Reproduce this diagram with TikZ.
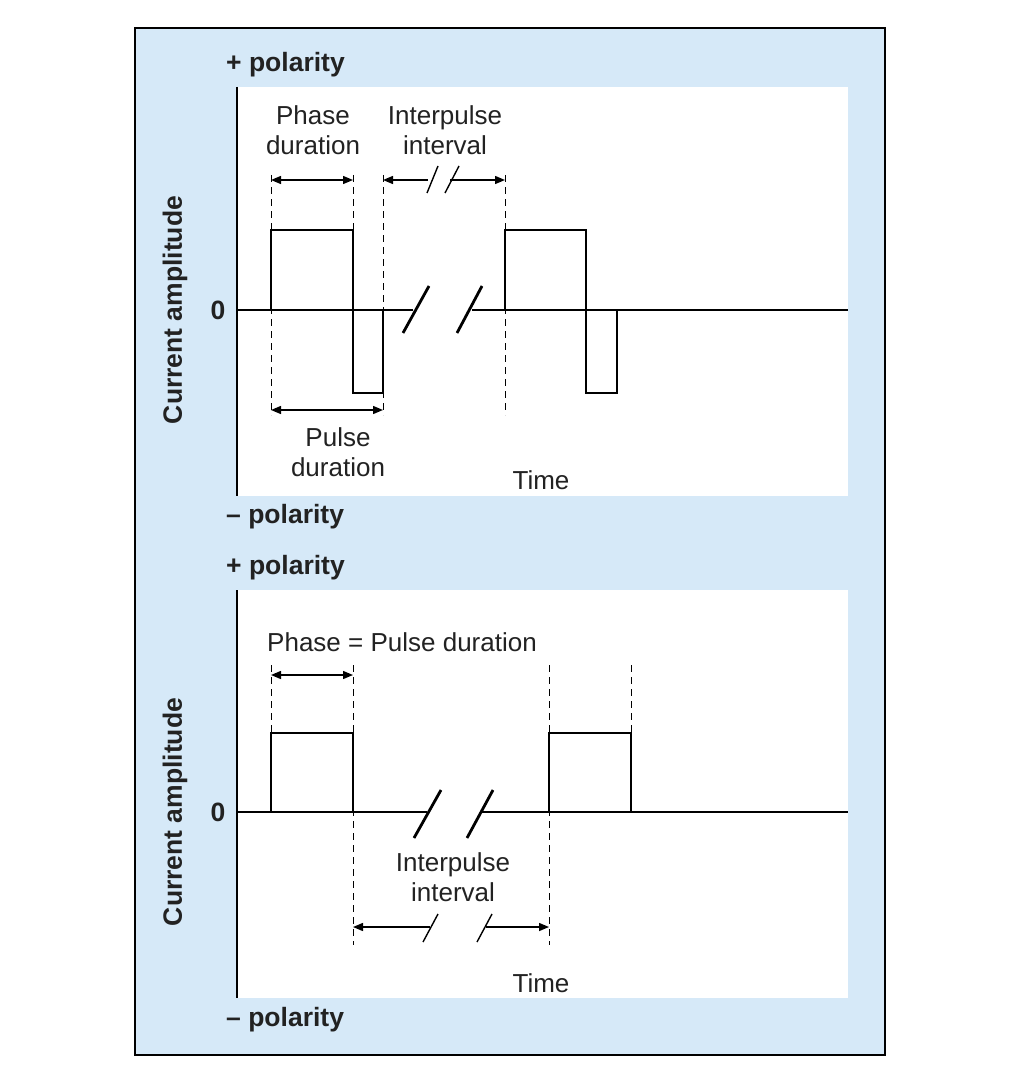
\documentclass[tikz,border=0pt]{standalone}
\usepackage{fontspec}
\setmainfont{Liberation Sans}
\usetikzlibrary{arrows.meta}
\definecolor{panelblue}{HTML}{D6E9F8}
\definecolor{txt}{HTML}{222222}
\tikzset{
  wave/.style={line width=2.8pt,line join=miter},
  axis/.style={line width=2.8pt},
  guide/.style={dashed,line width=1pt,dash pattern=on 7pt off 5pt},
  dim/.style={line width=1.4pt,-{Triangle[length=10pt,width=8pt]}},
  dimboth/.style={line width=1.4pt,{Triangle[length=10pt,width=8pt]}-{Triangle[length=10pt,width=8pt]}},
  brk/.style={line width=2.8pt},
  brks/.style={line width=1.4pt},
  lbl/.style={font=\fontsize{26}{30}\selectfont,text=txt,align=center,inner sep=0pt},
  bold/.style={font=\bfseries\fontsize{26.5}{30}\selectfont,text=txt,inner sep=0pt}
}
\begin{document}
\begin{tikzpicture}[x=1pt,y=-1pt]
\useasboundingbox (0,0) rectangle (1032,1078);
\fill[white] (0,0) rectangle (1032,1078);
\draw[fill=panelblue,line width=2pt] (135,28) rectangle (885,1055);
\fill[white] (237,87) rectangle (848,496);
\fill[white] (237,590) rectangle (848,998);

% ---------- top panel ----------
\draw[axis] (237,87) -- (237,496);
\draw[axis] (237,310) -- (413,310);
\draw[axis] (472,310) -- (848,310);
\draw[brk] (403,333) -- (429,286);
\draw[brk] (457,333) -- (482,286);
\draw[guide] (271,175) -- (271,415);
\draw[guide] (353,175) -- (353,230);
\draw[guide] (383,175) -- (383,415);
\draw[guide] (505,175) -- (505,415);
\draw[wave] (271,310) -- (271,230) -- (353,230) -- (353,393) -- (383,393) -- (383,310);
\draw[wave] (505,310) -- (505,230) -- (586,230) -- (586,393) -- (617,393) -- (617,310);
\draw[dimboth] (271,180) -- (353,180);
\draw[dim] (428,180) -- (383,180);
\draw[dim] (450,180) -- (505,180);
\draw[brks] (427,193) -- (438,166);
\draw[brks] (445,193) -- (459,166);
\draw[dimboth] (271,410) -- (383,410);
\node[lbl] (pd) at (313,130) {Phase\\duration};
\node[lbl] (ii) at (445,130) {Interpulse\\interval};
\node[lbl] (pu) at (338,452) {Pulse\\duration};
\node[lbl] (t1) at (541,480) {Time};
\node[bold,anchor=west] (pp1) at (226,65) {+ polarity};
\node[bold,anchor=west] (np1) at (226,517) {– polarity};
\node[bold] (z1) at (218,310) {0};
\node[bold,rotate=90] (ca1) at (175,310) {Current amplitude};

% ---------- bottom panel ----------
\draw[axis] (237,590) -- (237,998);
\draw[axis] (237,812) -- (427,812);
\draw[axis] (482,812) -- (848,812);
\draw[brk] (414,838) -- (441,790);
\draw[brk] (467,838) -- (493,790);
\draw[guide] (271,665) -- (271,733);
\draw[guide] (353,665) -- (353,945);
\draw[guide] (549,665) -- (549,945);
\draw[guide] (631,665) -- (631,733);
\draw[wave] (271,812) -- (271,733) -- (353,733) -- (353,812);
\draw[wave] (549,812) -- (549,733) -- (631,733) -- (631,812);
\draw[dimboth] (271,675) -- (353,675);
\draw[dim] (430,927) -- (353,927);
\draw[dim] (486,927) -- (549,927);
\draw[brks] (423,942) -- (438,914);
\draw[brks] (477,942) -- (492,914);
\node[lbl] (pe) at (402,642) {Phase = Pulse duration};
\node[lbl] (ii2) at (453,877) {Interpulse\\interval};
\node[lbl] (t2) at (541,983) {Time};
\node[bold,anchor=west] (pp2) at (226,568) {+ polarity};
\node[bold,anchor=west] (np2) at (226,1020) {– polarity};
\node[bold] (z2) at (218,812) {0};
\node[bold,rotate=90] (ca2) at (175,812) {Current amplitude};
\end{tikzpicture}
\end{document}
